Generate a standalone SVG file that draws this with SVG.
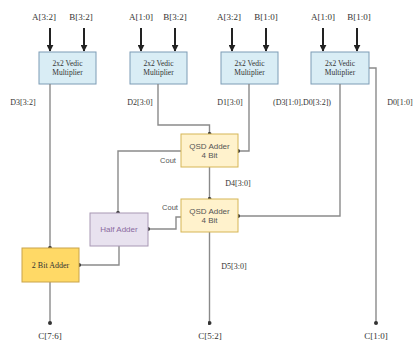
<svg xmlns="http://www.w3.org/2000/svg" width="413" height="343" viewBox="0 0 413 343">
<defs>
<style>
.lbl{font-family:"Liberation Serif",serif;font-size:9px;fill:#333;text-anchor:middle}
.dl{font-family:"Liberation Serif",serif;font-size:8px;fill:#333;text-anchor:middle}
.sl{font-family:"Liberation Sans",sans-serif;font-size:7.5px;fill:#555;text-anchor:middle}
.mul rect{fill:#d9edf5;stroke:#7d9cb5;stroke-width:1}
.mul text{font-family:"Liberation Serif",serif;font-size:7.5px;fill:#333;text-anchor:middle}
.qsd rect{fill:#fff2cc;stroke:#d6b656;stroke-width:1}
.qsd text{font-family:"Liberation Sans",sans-serif;font-size:8px;fill:#555;text-anchor:middle}
.conn path{fill:none;stroke:#8a8a8a;stroke-width:1.4;marker-end:url(#dot)}
.in path{fill:none;stroke:#222;stroke-width:2;marker-end:url(#arr)}
</style>
<marker id="dot" viewBox="0 0 6 6" refX="3" refY="3" markerWidth="4" markerHeight="4" markerUnits="userSpaceOnUse">
<circle cx="3" cy="3" r="3" fill="#333"/>
</marker>
<marker id="arr" viewBox="0 0 10 10" refX="9" refY="5" markerWidth="3.5" markerHeight="3.5" orient="auto">
<path d="M0,0 L10,5 L0,10 z" fill="#222"/>
</marker>
</defs>
<rect width="413" height="343" fill="#fff"/>

<g id="inputs" class="in">
<path d="M50,28 V51"/><path d="M84,28 V51"/>
<path d="M141,28 V51"/><path d="M175,28 V51"/>
<path d="M232,28 V51"/><path d="M266,28 V51"/>
<path d="M323,28 V51"/><path d="M357,28 V51"/>
</g>

<g id="input-labels">
<text class="lbl" x="44" y="20">A[3:2]</text>
<text class="lbl" x="81" y="20">B[3:2]</text>
<text class="lbl" x="141" y="20">A[1:0]</text>
<text class="lbl" x="175" y="20">B[3:2]</text>
<text class="lbl" x="229" y="20">A[3:2]</text>
<text class="lbl" x="266" y="20">B[1:0]</text>
<text class="lbl" x="323" y="20">A[1:0]</text>
<text class="lbl" x="359" y="20">B[1:0]</text>
</g>

<g id="mul1" class="mul"><rect x="39" y="52" width="57" height="32"/><text x="67.5" y="66">2x2 Vedic</text><text x="67.5" y="75">Multiplier</text></g>
<g id="mul2" class="mul"><rect x="130" y="52" width="57" height="32"/><text x="158.5" y="66">2x2 Vedic</text><text x="158.5" y="75">Multiplier</text></g>
<g id="mul3" class="mul"><rect x="221" y="52" width="57" height="32"/><text x="249.5" y="66">2x2 Vedic</text><text x="249.5" y="75">Multiplier</text></g>
<g id="mul4" class="mul"><rect x="311" y="52" width="58" height="32"/><text x="340" y="66">2x2 Vedic</text><text x="340" y="75">Multiplier</text></g>

<g id="connectors" class="conn">
<path d="M50,84 V248"/>
<path d="M158,84 V125 H209.5 V134"/>
<path d="M249,84 V151 H238"/>
<path d="M340,84 V216 H238"/>
<path d="M369,68 H376 V323"/>
<path d="M209.5,167 V199"/>
<path d="M209.5,232 V323"/>
<path d="M181,151 H118 V213"/>
<path d="M181,217 H176 V229 H148"/>
<path d="M119,246 V265 H79"/>
<path d="M50,282 V323"/>
</g>

<g id="conn-labels">
<text class="dl" x="23" y="105">D3[3:2]</text>
<text class="dl" x="140" y="105">D2[3:0]</text>
<text class="dl" x="230" y="105">D1[3:0]</text>
<text class="dl" x="302" y="105">(D3[1:0],D0[3:2])</text>
<text class="dl" x="400" y="105">D0[1:0]</text>
<text class="dl" x="238" y="186">D4[3:0]</text>
<text class="dl" x="234" y="269">D5[3:0]</text>
<text class="sl" x="168" y="163">Cout</text>
<text class="sl" x="170" y="210">Cout</text>
</g>

<g id="qsd1" class="qsd"><rect x="181" y="134" width="57" height="33"/><text x="209.5" y="149">QSD Adder</text><text x="209.5" y="158">4 Bit</text></g>
<g id="qsd2" class="qsd"><rect x="181" y="199" width="57" height="33"/><text x="209.5" y="214">QSD Adder</text><text x="209.5" y="223">4 Bit</text></g>

<g id="halfadder"><rect x="90" y="213" width="58" height="33" fill="#e8e2ef" stroke="#a898b4" stroke-width="1"/><text x="119" y="232" font-family="Liberation Sans, sans-serif" font-size="8" fill="#8a6aa0" text-anchor="middle">Half Adder</text></g>

<g id="twobitadder"><rect x="22" y="248" width="57" height="34" fill="#ffd966" stroke="#c9a44a" stroke-width="1"/><text x="50.5" y="268" font-family="Liberation Serif, serif" font-size="8" fill="#333" text-anchor="middle">2 Bit Adder</text></g>

<g id="output-labels">
<text class="lbl" x="50" y="339">C[7:6]</text>
<text class="lbl" x="210" y="339">C[5:2]</text>
<text class="lbl" x="376" y="339">C[1:0]</text>
</g>
</svg>
